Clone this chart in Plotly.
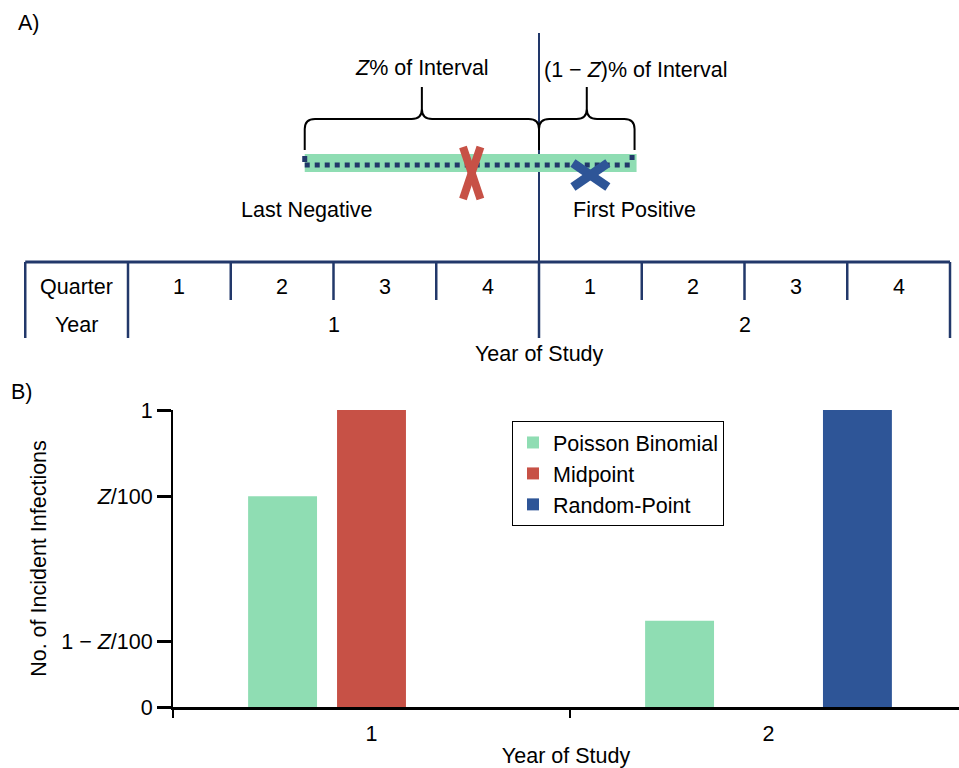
import plotly.graph_objects as go

# ---------------- data ----------------
years = ["1", "2"]
series_names = ["Poisson Binomial", "Midpoint", "Random-Point"]
poisson_binomial = [0.71, 0.29]
midpoint = [1.0, 0.0]
random_point = [0.0, 1.0]
y_tick_vals = [0, 0.222, 0.71, 1]
y_tick_text = ["0", "1 − <i>Z</i>/100", "<i>Z</i>/100", "1"]

quarter_labels = ["1", "2", "3", "4", "1", "2", "3", "4"]
year_labels = ["1", "2"]
last_negative_q = 1.72      # position in quarters since start of study
first_positive_q = 4.93
random_point_q = 4.50
midpoint_q = (last_negative_q + first_positive_q) / 2

# ---------------- styles / layout constants ----------------
W, H = 959, 768
FONT = "Liberation Sans, Arial, sans-serif"
FS = 21.5
NAVY = "#22386A"
GREEN = "#8FDDB3"
RED = "#C75146"
BLUE = "#2E5597"
colors = [GREEN, RED, BLUE]

# panel A geometry (x in quarter units, y in px from top of panel)
Q0_PX, QW_PX = 128, 102.75
PX = 1 / QW_PX
Y_TOP_LINE, Y_QROW, Y_YROW, Y_TBL_MID, Y_TBL_BOT = 262, 287, 325, 300, 338
Y_TITLE_A = 354
Y_BAND = 163
Y_DOTS = 165
Y_BRACE_BASE, Y_BRACE_TOP, Y_BRACE_PEAK = 150, 119, 87

fig = go.Figure()
for name, vals, c in zip(series_names, [poisson_binomial, midpoint, random_point], colors):
    fig.add_trace(go.Bar(x=years, y=vals, name=name,
                         marker=dict(color=c, line=dict(width=0)),
                         xaxis="x", yaxis="y", hoverinfo="skip"))

# anchor trace for panel A axes
fig.add_trace(go.Scatter(x=[midpoint_q, random_point_q], y=[Y_BAND, Y_BAND], xaxis="x2", yaxis="y2",
                         mode="markers", marker=dict(opacity=0), showlegend=False, hoverinfo="skip"))

shapes = []
ann = []

def line(x0, y0, x1, y1, color=NAVY, width=2.5, dash=None):
    d = dict(type="line", xref="x2", yref="y2", x0=x0, y0=y0, x1=x1, y1=y1,
             line=dict(color=color, width=width))
    if dash:
        d["line"]["dash"] = dash
    shapes.append(d)

def text(x, y, s, xanchor="center", ref="x2", yref="y2"):
    ann.append(dict(x=x, y=y, xref=ref, yref=yref, text=s, showarrow=False,
                    xanchor=xanchor, yanchor="middle", font=dict(size=FS, color="black", family=FONT)))

# table
line(-1, Y_TOP_LINE, 8, Y_TOP_LINE, width=3)
for q in [-1, 0, 4, 8]:
    line(q, Y_TOP_LINE, q, Y_TBL_BOT)
for q in [1, 2, 3, 5, 6, 7]:
    line(q, Y_TOP_LINE, q, Y_TBL_MID)
line(4, 33, 4, Y_TOP_LINE, width=2)

text(-0.5, Y_QROW, "Quarter")
text(-0.5, Y_YROW, "Year")
for i, lab in enumerate(quarter_labels):
    text(i + 0.5, Y_QROW, lab)
for i, lab in enumerate(year_labels):
    text(4 * i + 2, Y_YROW, lab)
text(4, Y_TITLE_A, "Year of Study")

# interval band + dotted line
shapes.append(dict(type="line", xref="x2", yref="y2", x0=last_negative_q, x1=first_positive_q + 2 * PX,
                   y0=Y_BAND, y1=Y_BAND, line=dict(color=GREEN, width=18)))
line(last_negative_q, Y_DOTS, first_positive_q, Y_DOTS, color=NAVY, width=5, dash="5px,5px")
line(last_negative_q, Y_DOTS - 9, last_negative_q, Y_DOTS - 3, color=NAVY, width=5)
line(first_positive_q - 5 * PX, Y_DOTS - 7.5, first_positive_q, Y_DOTS - 7.5, color=NAVY, width=5)

# braces
def brace(x0, x1, yb, yt, yp, rx=0.1, ry=10):
    xm = (x0 + x1) / 2
    return (f"M {x0},{yb} L {x0},{yt+ry} Q {x0},{yt} {x0+rx},{yt} L {xm-rx},{yt} "
            f"Q {xm},{yt} {xm},{yt-ry} L {xm},{yp} "
            f"M {xm},{yt-ry} Q {xm},{yt} {xm+rx},{yt} L {x1-rx},{yt} "
            f"Q {x1},{yt} {x1},{yt+ry} L {x1},{yb}")

for a, b in [(last_negative_q, 4), (4, first_positive_q)]:
    shapes.append(dict(type="path", xref="x2", yref="y2",
                       path=brace(a, b, Y_BRACE_BASE, Y_BRACE_TOP, Y_BRACE_PEAK),
                       line=dict(color="black", width=2)))

text((last_negative_q + 4) / 2, 68, "<i>Z</i>% of Interval")
text(4.03, 70, "(1 − <i>Z</i>)% of Interval", xanchor="left")
text(last_negative_q + 0.02, 210, "Last Negative")
text(first_positive_q, 210, "First Positive")

# crosses
def cross(xc, yc, hw, hh, color, width):
    line(xc - hw, yc - hh, xc + hw, yc + hh, color=color, width=width)
    line(xc + hw, yc - hh, xc - hw, yc + hh, color=color, width=width)

cross(midpoint_q + 0.02, 173, 0.085, 26, RED, 8)
cross(random_point_q, 175, 0.17, 12, BLUE, 9)

text(16 / W, 1 - 23 / H, "A)", xanchor="left", ref="paper", yref="paper")
text(9 / W, 1 - 392 / H, "B)", xanchor="left", ref="paper", yref="paper")

x_dom = [173 / W, 1]
y_dom = [(H - 707) / H, (H - 410) / H]
cat_px = 397
x_span = (W - 173) / cat_px

fig.update_layout(
    width=W, height=H, margin=dict(l=0, r=0, t=0, b=0, autoexpand=False),
    paper_bgcolor="white", plot_bgcolor="white",
    font=dict(family=FONT, size=FS, color="black"),
    barmode="group", bargap=0.328, bargroupgap=0.225,
    shapes=shapes, annotations=ann,
    xaxis=dict(domain=x_dom, range=[-0.5, -0.5 + x_span], type="category",
               showline=True, linecolor="black", linewidth=3,
               ticks="outside", ticklen=8, tickwidth=2, tickcolor="black", tickson="boundaries",
               showgrid=False, zeroline=False, ticklabelstandoff=5,
               title=dict(text="Year of Study", standoff=22, font=dict(size=FS)), anchor="y"),
    yaxis=dict(domain=y_dom, range=[0, 1], tickvals=y_tick_vals, ticktext=y_tick_text,
               showline=True, linecolor="black", linewidth=2,
               ticks="outside", ticklen=14, tickwidth=2.5, tickcolor="black",
               showgrid=False, zeroline=False, ticklabelstandoff=0,
               title=dict(text="No. of Incident Infections", standoff=9, font=dict(size=FS)), anchor="x"),
    xaxis2=dict(domain=[0, 1], range=[-Q0_PX / QW_PX, (W - Q0_PX) / QW_PX], visible=False, anchor="y2"),
    yaxis2=dict(domain=[0.5, 1], range=[384, 0], visible=False, anchor="x2"),
    legend=dict(x=512 / W, y=1 - 421 / H, xanchor="left", yanchor="top",
                bordercolor="black", borderwidth=1, bgcolor="white",
                font=dict(size=FS), traceorder="normal"),
)

fig.write_html("out.html", config={"displayModeBar": False},
               post_script="document.body.style.margin='0px';")
